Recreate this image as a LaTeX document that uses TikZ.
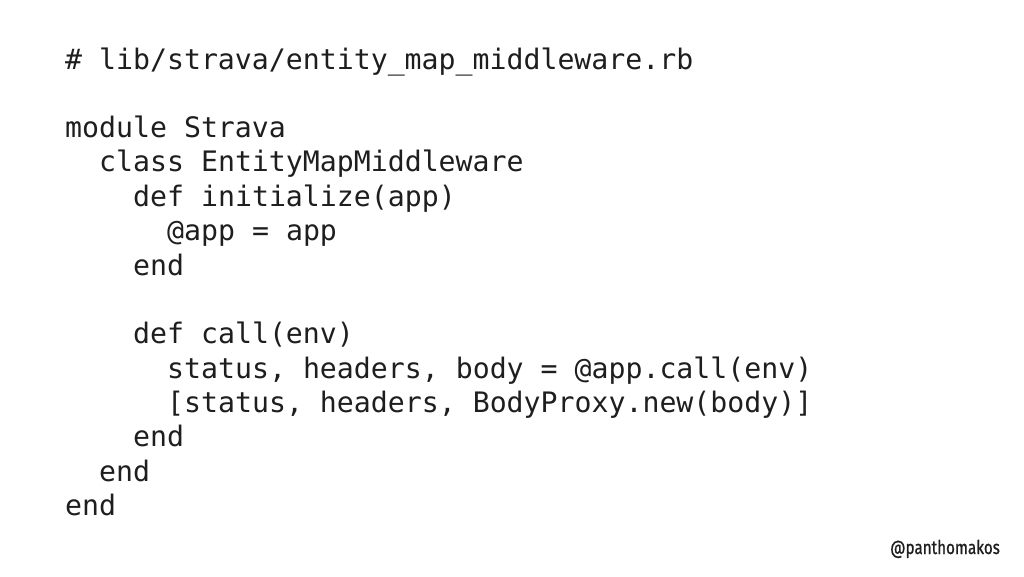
\documentclass[tikz,border=0pt]{standalone}
\usepackage{fontspec}
\setmonofont{DejaVu Sans Mono}
\newfontfamily\handlefont{Fira Sans}
\usepackage{tikz}
\usetikzlibrary{%
  positioning% wg. " of "
}
\definecolor{codeink}{HTML}{1E1E1E}

\begin{document}
\begin{tikzpicture}[x=1pt,y=1pt, node distance=0pt,
    every node/.style={inner sep=0pt},
    codeline/.style={font=\fontsize{28.2}{34}\selectfont\ttfamily, text=codeink,
      text height=24pt, text depth=10pt, anchor=north west}]
    \useasboundingbox (0,0) rectangle (1024,576);
    %file comment
    \node[codeline] (comment) at (65,531) {\# lib/strava/entity\_map\_middleware.rb};
    %module and class
    \node[below=34pt of comment.south west, codeline] (module) {module Strava};
    \node[below=of module.south west, codeline, xshift=34pt] (class) {class EntityMapMiddleware};
    %initialize
    \node[below=of class.south west, codeline, xshift=34pt] (init) {def initialize(app)};
    \node[below=of init.south west, codeline, xshift=34pt] (ivar) {@app = app};
    \node[below=of ivar.south west, codeline, xshift=-34pt] (endinit) {end};
    %call
    \node[below=34pt of endinit.south west, codeline] (call) {def call(env)};
    \node[below=of call.south west, codeline, xshift=34pt] (destruct) {status, headers, body = @app.call(env)};
    \node[below=of destruct.south west, codeline] (result) {[status, headers, BodyProxy.new(body)]};
    \node[below=of result.south west, codeline, xshift=-34pt] (endcall) {end};
    \node[below=of endcall.south west, codeline, xshift=-34pt] (endclass) {end};
    \node[below=of endclass.south west, codeline, xshift=-34pt] (endmodule) {end};
    %handle
    \node[anchor=base east, xscale=0.8, text=codeink,
      font=\fontsize{19}{19}\handlefont\addfontfeature{FakeBold=1}] (handle) at (1000,22) {@panthomakos};
\end{tikzpicture}
\end{document}
